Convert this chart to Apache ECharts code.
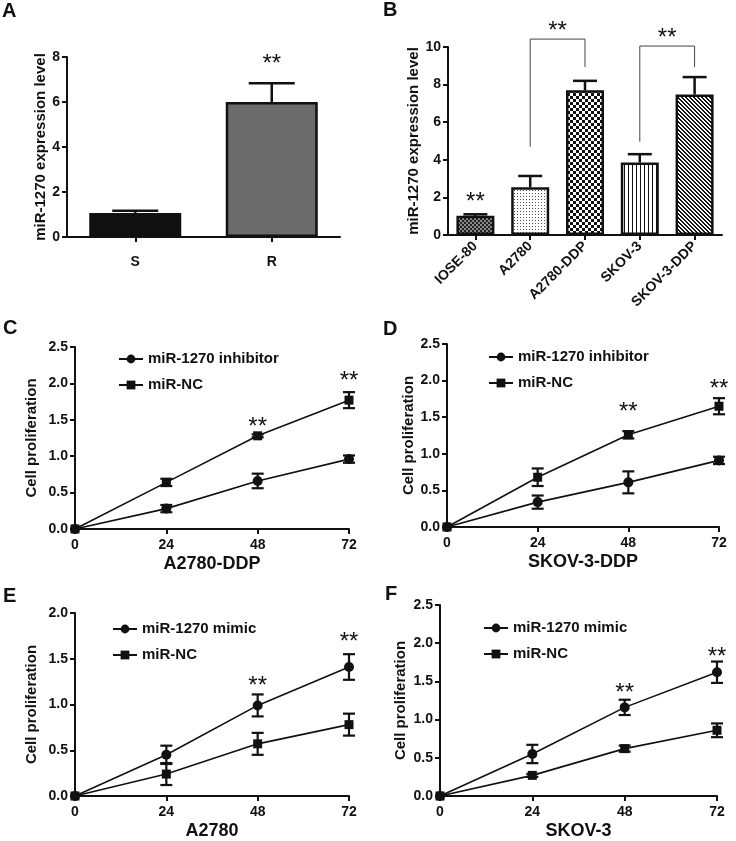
<!DOCTYPE html>
<html><head><meta charset="utf-8">
<script src="https://cdn.jsdelivr.net/npm/echarts@6/dist/echarts.min.js"></script>
<style>html,body{margin:0;padding:0;background:#fff}#c{width:736px;height:841px}</style>
</head><body><div id="c"></div>
<script>
const FONT = 'Arial, "Liberation Sans", Helvetica, sans-serif';
const INK = '#111';

// ---- Panel A ----
const aCats = ['S', 'R'];
const aMean = [1.07, 6.0];
const aErr = [0.1, 0.83];
const aStars = [[1, 7.9]];

// ---- Panel B ----
const bCats = ['IOSE-80', 'A2780', 'A2780-DDP', 'SKOV-3', 'SKOV-3-DDP'];
const bMean = [1.02, 2.54, 7.7, 3.85, 7.47];
const bErr = [0.08, 0.6, 0.5, 0.45, 0.93];
const bStars = [[0, 2.0]];
// [leftCat, rightCat, leftBottom, rightBottom, top]
const bBrackets = [[1, 2, 4.7, 8.94, 10.42], [3, 4, 4.96, 8.94, 10.05]];

// ---- Line panels ----
const hours = [0, 24, 48, 72];
const hourTicks = ['0', '24', '48', '72'];

const cInh = [0, 0.28, 0.66, 0.96];
const cInhErr = [0, 0.05, 0.1, 0.05];
const cNC = [0, 0.64, 1.28, 1.77];
const cNCErr = [0, 0.05, 0.02, 0.11];
const cStars = [[48, 1.47], [72, 2.1]];

const dInh = [0, 0.34, 0.61, 0.91];
const dInhErr = [0, 0.09, 0.15, 0.05];
const dNC = [0, 0.68, 1.26, 1.65];
const dNCErr = [0, 0.12, 0.05, 0.11];
const dStars = [[48, 1.64], [72, 1.95]];

const eMim = [0, 0.45, 0.99, 1.41];
const eMimErr = [0, 0.1, 0.12, 0.14];
const eNC = [0, 0.24, 0.57, 0.78];
const eNCErr = [0, 0.12, 0.12, 0.12];
const eStars = [[48, 1.25], [72, 1.73]];

const fMim = [0, 0.55, 1.16, 1.62];
const fMimErr = [0, 0.12, 0.1, 0.14];
const fNC = [0, 0.27, 0.62, 0.86];
const fNCErr = [0, 0.02, 0.04, 0.09];
const fStars = [[48, 1.41], [72, 1.875]];

// ---------- patterns ----------
function pat(w, h, draw) {
  const c = document.createElement('canvas');
  c.width = w; c.height = h;
  const g = c.getContext('2d');
  g.fillStyle = '#fff'; g.fillRect(0, 0, w, h);
  draw(g);
  return { image: c, repeat: 'repeat' };
}
const patterns = [
  pat(4, 4, g => { g.fillStyle = '#222'; g.fillRect(0,0,4,4); g.fillStyle = '#8a8a8a'; g.fillRect(0,0,2,2); g.fillRect(2,2,2,2); }),
  pat(3, 3, g => { g.fillStyle = '#555'; g.fillRect(1,1,1,1); }),
  pat(6, 6, g => { g.fillStyle = '#111'; g.fillRect(0,0,3,3); g.fillRect(3,3,3,3); }),
  pat(4, 1, g => { g.fillStyle = '#111'; g.fillRect(0,0,1,1); }),
  pat(4, 4, g => { g.fillStyle = '#111'; for (let y=0;y<4;y++) for (let x=0;x<4;x++) { const d=((x-y)%4+4)%4; if (d===0||d===1) g.fillRect(x,y,1,1);} })
];

// ---------- helpers ----------
function errRender(capHalf, lw, upOnly) {
  return function (params, api) {
    const x = api.value(0), lo = api.value(1), hi = api.value(2);
    const a = api.coord([x, lo]), b = api.coord([x, hi]);
    const st = { stroke: INK, lineWidth: lw };
    const ch = [
      { type: 'line', shape: { x1: a[0], y1: a[1], x2: b[0], y2: b[1] }, style: st },
      { type: 'line', shape: { x1: b[0] - capHalf, y1: b[1], x2: b[0] + capHalf, y2: b[1] }, style: st }
    ];
    if (!upOnly) ch.push({ type: 'line', shape: { x1: a[0] - capHalf, y1: a[1], x2: a[0] + capHalf, y2: a[1] }, style: st });
    return { type: 'group', children: ch };
  };
}
const STAR_FONT = '24px ' + FONT;
function starRender(params, api) {
  const p = api.coord([api.value(0), api.value(1)]);
  return { type: 'text', x: p[0], y: p[1] + 5, style: { text: '**', fill: INK, font: STAR_FONT, align: 'center', verticalAlign: 'middle' } };
}
function bracketRender(params, api) {
  const x1 = api.value(0), x2 = api.value(1), yl = api.value(2), yr = api.value(3), yt = api.value(4);
  const p1 = api.coord([x1, yl]), p2 = api.coord([x1, yt]), p3 = api.coord([x2, yt]), p4 = api.coord([x2, yr]);
  return { type: 'group', children: [
    { type: 'polyline', shape: { points: [p1, p2, p3, p4] }, style: { stroke: '#444', lineWidth: 1, fill: null } },
    { type: 'text', x: (p2[0] + p3[0]) / 2, y: p2[1] - 13 + 5, style: { text: '**', fill: INK, font: STAR_FONT, align: 'center', verticalAlign: 'middle' } }
  ]};
}
const lblStyle = { fontFamily: FONT, fontWeight: 'bold', fontSize: 14, color: INK };
const axLine = { show: true, lineStyle: { color: INK, width: 2 } };
const axTick = { show: true, length: 5, lineStyle: { color: INK, width: 2 } };

// ---------- grids ----------
const grids = [
  { left: 67, top: 57, width: 273, height: 180 },   // A
  { left: 448, top: 47, width: 274, height: 188 },  // B
  { left: 75, top: 347, width: 274, height: 182 },  // C
  { left: 447, top: 344, width: 272, height: 183 }, // D
  { left: 75, top: 613, width: 274, height: 184 },  // E
  { left: 440, top: 605, width: 277, height: 192 }  // F
];

const xAxes = [], yAxes = [], series = [], legends = [];

// Panel A axes
xAxes.push({ gridIndex: 0, type: 'category', data: aCats, axisLine: axLine, axisTick: Object.assign({ alignWithLabel: true }, axTick),
  axisLabel: Object.assign({ margin: 18 }, lblStyle) });
yAxes.push({ gridIndex: 0, type: 'value', min: 0, max: 8, interval: 2, axisLine: axLine, axisTick: axTick, splitLine: { show: false },
  axisLabel: Object.assign({ margin: 7 }, lblStyle),
  name: 'miR-1270 expression level', nameLocation: 'middle', nameGap: 17,
  nameTextStyle: { fontFamily: FONT, fontWeight: 'bold', fontSize: 15, color: INK } });
// Panel B axes
xAxes.push({ gridIndex: 1, type: 'category', data: bCats, axisLine: axLine, axisTick: Object.assign({ alignWithLabel: true }, axTick),
  axisLabel: Object.assign({ margin: 9, rotate: 45, interval: 0 }, lblStyle) });
yAxes.push({ gridIndex: 1, type: 'value', min: 0, max: 10, interval: 2, axisLine: axLine, axisTick: axTick, splitLine: { show: false },
  axisLabel: Object.assign({ margin: 7 }, lblStyle),
  name: 'miR-1270 expression level', nameLocation: 'middle', nameGap: 17,
  nameTextStyle: { fontFamily: FONT, fontWeight: 'bold', fontSize: 15, color: INK } });

series.push({ type: 'bar', xAxisIndex: 0, yAxisIndex: 0, barWidth: 92,
  data: aMean.map((v, i) => ({ value: v, itemStyle: { color: i === 0 ? '#111' : '#6b6b6b' } })),
  itemStyle: { borderColor: INK, borderWidth: 2.5 }, silent: true });
series.push({ type: 'custom', xAxisIndex: 0, yAxisIndex: 0, renderItem: errRender(23, 2.5, true),
  data: aMean.map((v, i) => [i, v, v + aErr[i]]), encode: { x: 0, y: [1, 2] }, z: 3, silent: true });
series.push({ type: 'custom', xAxisIndex: 0, yAxisIndex: 0, renderItem: starRender, data: aStars, z: 4, silent: true });

series.push({ type: 'bar', xAxisIndex: 1, yAxisIndex: 1, barWidth: 38,
  data: bMean.map((v, i) => ({ value: v, itemStyle: { color: patterns[i] } })),
  itemStyle: { borderColor: INK, borderWidth: 2.5 }, silent: true });
series.push({ type: 'custom', xAxisIndex: 1, yAxisIndex: 1, renderItem: errRender(12, 2.5, true),
  data: bMean.map((v, i) => [i, v, v + bErr[i]]), encode: { x: 0, y: [1, 2] }, z: 3, silent: true });
series.push({ type: 'custom', xAxisIndex: 1, yAxisIndex: 1, renderItem: starRender, data: bStars, z: 4, silent: true });
series.push({ type: 'custom', xAxisIndex: 1, yAxisIndex: 1, renderItem: bracketRender, data: bBrackets,
  encode: { x: [0, 1], y: [2, 3] }, z: 4, silent: true, clip: false });

// Line panels
const linePanels = [
  { g: 2, name: 'A2780-DDP', yMax: 2.5, yGap: 36, s1: 'miR-1270 inhibitor', v1: cInh, e1: cInhErr, v2: cNC, e2: cNCErr, stars: cStars, lg: [113, 346] },
  { g: 3, name: 'SKOV-3-DDP', yMax: 2.5, yGap: 31, s1: 'miR-1270 inhibitor', v1: dInh, e1: dInhErr, v2: dNC, e2: dNCErr, stars: dStars, lg: [483, 344] },
  { g: 4, name: 'A2780', yMax: 2.0, yGap: 36, s1: 'miR-1270 mimic', v1: eMim, e1: eMimErr, v2: eNC, e2: eNCErr, stars: eStars, lg: [107, 616] },
  { g: 5, name: 'SKOV-3', yMax: 2.5, yGap: 32, s1: 'miR-1270 mimic', v1: fMim, e1: fMimErr, v2: fNC, e2: fNCErr, stars: fStars, lg: [478, 615] }
];
linePanels.forEach(p => {
  xAxes.push({ gridIndex: p.g, type: 'value', min: 0, max: 72, interval: 24, axisLine: axLine, axisTick: axTick, splitLine: { show: false },
    axisLabel: Object.assign({ margin: 9, formatter: v => hourTicks[hours.indexOf(v)] }, lblStyle),
    name: p.name, nameLocation: 'middle', nameGap: 26,
    nameTextStyle: { fontFamily: FONT, fontWeight: 'bold', fontSize: 18, color: INK } });
  yAxes.push({ gridIndex: p.g, type: 'value', min: 0, max: p.yMax, interval: 0.5, axisLine: axLine, axisTick: axTick, splitLine: { show: false },
    axisLabel: Object.assign({ margin: 7, formatter: v => v.toFixed(1) }, lblStyle),
    name: 'Cell proliferation', nameLocation: 'middle', nameGap: p.yGap,
    nameTextStyle: { fontFamily: FONT, fontWeight: 'bold', fontSize: 15, color: INK } });
  const ai = xAxes.length - 1;
  [[p.s1, p.v1, p.e1, 'circle', 10], ['miR-NC', p.v2, p.e2, 'rect', 9]].forEach(([nm, vals, errs, sym, sz]) => {
    series.push({ type: 'line', name: nm, xAxisIndex: ai, yAxisIndex: ai, data: hours.map((h, i) => [h, vals[i]]),
      symbol: sym, symbolSize: sz, showSymbol: true, lineStyle: { color: INK, width: 1.6 }, itemStyle: { color: INK },
      z: 2, silent: true, animation: false });
    series.push({ type: 'custom', xAxisIndex: ai, yAxisIndex: ai, renderItem: errRender(6, 2.2, false),
      data: hours.map((h, i) => [h, vals[i] - errs[i], vals[i] + errs[i]]).filter((d, i) => errs[i] > 0),
      encode: { x: 0, y: [1, 2] }, z: 3, silent: true });
  });
  series.push({ type: 'custom', xAxisIndex: ai, yAxisIndex: ai, renderItem: starRender, data: p.stars, z: 4, silent: true });
  legends.push({ left: p.lg[0], top: p.lg[1], orient: 'vertical', itemWidth: 24, itemHeight: 11, itemGap: 10,
    selectedMode: false, data: [p.s1, 'miR-NC'],
    textStyle: { fontFamily: FONT, fontWeight: 'bold', fontSize: 15, color: INK, lineHeight: 16 } });
});

const letters = [['A', 2, 1], ['B', 383, 0], ['C', 3, 318], ['D', 383, 319], ['E', 3, 586], ['F', 385, 584]];

const chart = echarts.init(document.getElementById('c'), null, { renderer: 'canvas' });
chart.setOption({
  backgroundColor: '#fff',
  animation: false,
  grid: grids,
  xAxis: xAxes,
  yAxis: yAxes,
  legend: legends,
  series: series,
  graphic: letters.map(([t, x, y]) => ({ type: 'text', left: x, top: y, style: { text: t, font: 'bold 20px ' + FONT, fill: INK } }))
});
</script>
</body></html>
